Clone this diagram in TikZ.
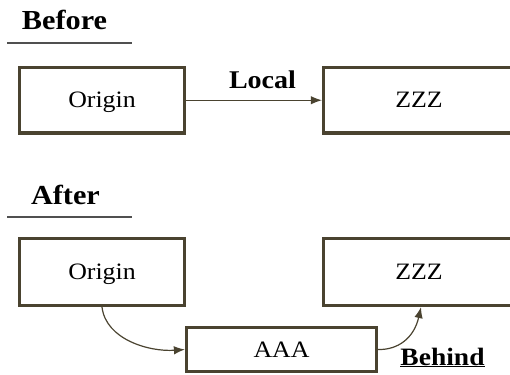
\documentclass[tikz,border=0pt]{standalone}
\usepackage{fontspec}
\setmainfont{Liberation Serif}[FakeStretch=1.1]
\usetikzlibrary{arrows.meta}
\definecolor{boxline}{RGB}{74,67,48}
\definecolor{ruleline}{RGB}{80,80,80}
\begin{document}
\begin{tikzpicture}[x=1pt,y=1pt,
  blk/.style={draw=boxline, line width=3.2pt, fill=white, inner sep=0pt,
    font=\fontsize{23.5}{26}\selectfont, text height=15.5pt, text depth=0pt},
  heading/.style={font=\fontsize{25.5}{28}\bfseries\selectfont, anchor=base, inner sep=0pt},
  section/.style={heading, font=\fontsize{27.5}{30}\bfseries\selectfont},
  rulel/.style={draw=ruleline, line width=1.3pt},
  link/.style={draw=boxline, line width=1.2pt, -{Latex[length=11pt,width=8.5pt]}}]
\useasboundingbox (0,0) rectangle (510,-374);

% --- Before ---
\node[section] (before) at (64.5,-29.5) {Before};
\coordinate (bl1) at (7,-43);
\coordinate (br1) at (132,-43);
\draw[rulel] (bl1) -- (br1);

\node[blk, minimum width=165pt, minimum height=65.5pt] (orig1) at (102,-100.25) {Origin};
\node[blk, minimum width=191pt, minimum height=65.5pt] (zzz1) at (419,-100.25) {ZZZ};
\draw[link] (orig1.east) -- (zzz1.west);
\node[heading] (local) at (262.5,-89) {Local};

% --- After ---
\node[section] (after) at (65.5,-204) {After};
\coordinate (bl2) at (7,-217);
\coordinate (br2) at (132,-217);
\draw[rulel] (bl2) -- (br2);

\node[blk, minimum width=165pt, minimum height=67pt] (orig2) at (102,-272) {Origin};
\node[blk, minimum width=191pt, minimum height=67pt] (zzz2) at (419,-272) {ZZZ};
\node[blk, minimum width=190pt, minimum height=44pt] (aaa) at (281.5,-349.5) {AAA};

\draw[link] (orig2.south) .. controls (106,-340) and (150,-352) .. (aaa.west);
\draw[link] (aaa.east) .. controls (398,-350) and (414,-338) .. ([xshift=2pt]zzz2.south);

\node[heading, font=\fontsize{25}{28}\bfseries\selectfont] (behind) at (442.5,-365) {\underline{Behind}};
\end{tikzpicture}
\end{document}
